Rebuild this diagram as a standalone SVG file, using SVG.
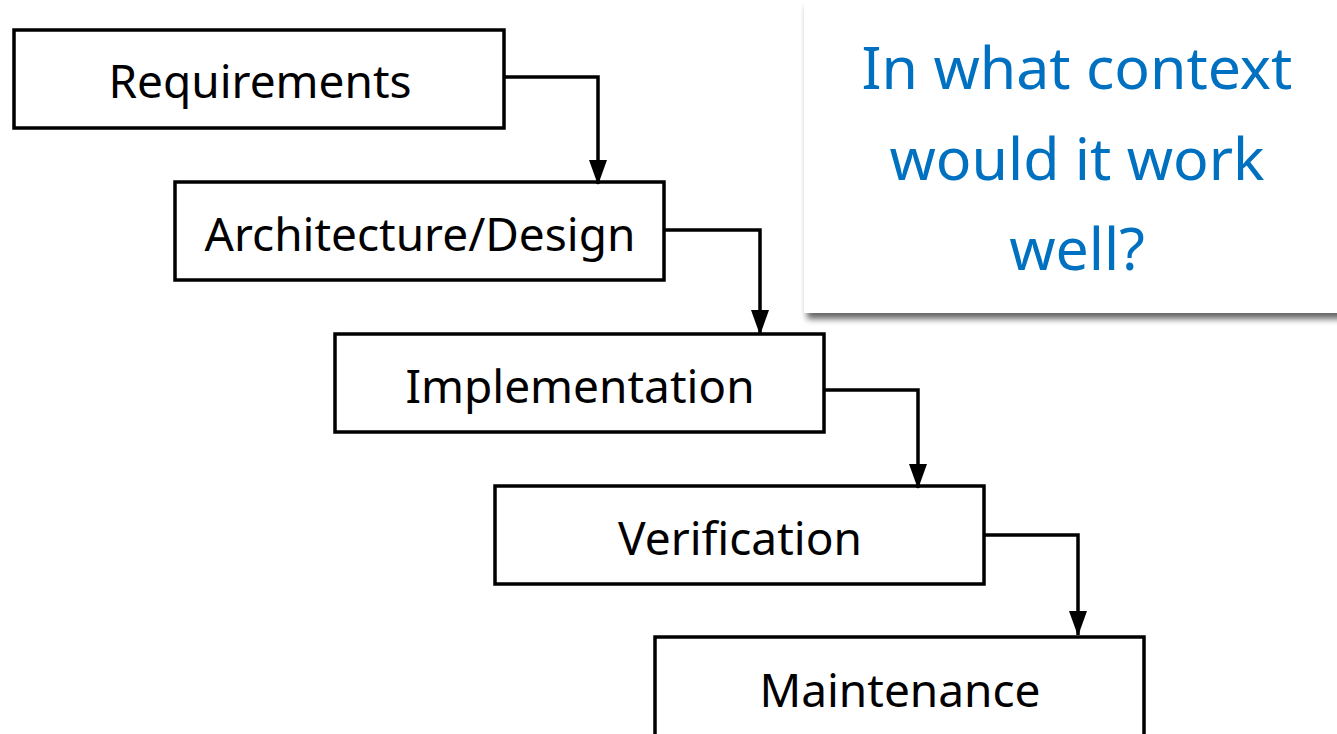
<svg xmlns="http://www.w3.org/2000/svg" width="1337" height="734" viewBox="0 0 1337 734">
  <defs>
    <marker id="arrow" viewBox="0 0 25 18" refX="24" refY="9" markerWidth="25" markerHeight="18" markerUnits="userSpaceOnUse" orient="auto">
      <path d="M0,0 L25,9 L0,18 Z" fill="#000"/>
    </marker>
    <filter id="shadow" x="-10%" y="-10%" width="130%" height="130%">
      <feGaussianBlur in="SourceAlpha" stdDeviation="3"/>
      <feOffset dx="3" dy="6" result="b"/>
      <feComponentTransfer><feFuncA type="linear" slope="0.6"/></feComponentTransfer>
      <feMerge><feMergeNode/><feMergeNode in="SourceGraphic"/></feMerge>
    </filter>
    <style>
      .box { fill: #fff; stroke: #000; stroke-width: 3.5; }
      .label { font-family: "Noto Sans", "Open Sans", sans-serif; font-size: 46px; fill: #000; text-anchor: middle; }
      .wire { fill: none; stroke: #000; stroke-width: 3.5; }
      .question { font-family: "Noto Sans", "Open Sans", sans-serif; font-size: 59px; fill: #0070C0; text-anchor: middle; }
    </style>
  </defs>
  <rect width="1337" height="734" fill="#fff"/>

  <!-- question callout -->
  <g id="callout">
    <rect x="804" y="0" width="540" height="313" fill="#fff" filter="url(#shadow)"/>
    <text class="question" x="1077" y="89">In what context</text>
    <text class="question" x="1077" y="180">would it work</text>
    <text class="question" x="1077" y="270">well?</text>
  </g>

  <!-- phase boxes -->
  <g id="requirements">
    <rect class="box" x="14" y="30" width="490" height="98"/>
    <text class="label" x="260" y="98">Requirements</text>
  </g>
  <g id="design">
    <rect class="box" x="175" y="182" width="489" height="98"/>
    <text class="label" x="420" y="251">Architecture/Design</text>
  </g>
  <g id="implementation">
    <rect class="box" x="335" y="334" width="489" height="98"/>
    <text class="label" x="580" y="403">Implementation</text>
  </g>
  <g id="verification">
    <rect class="box" x="495" y="486" width="489" height="98"/>
    <text class="label" x="740" y="555">Verification</text>
  </g>
  <g id="maintenance">
    <rect class="box" x="655" y="637" width="489" height="110"/>
    <text class="label" x="900" y="707">Maintenance</text>
  </g>

  <!-- flow between phases -->
  <g id="connectors">
    <path class="wire" d="M504,77 H598 V184" marker-end="url(#arrow)"/>
    <path class="wire" d="M664,230 H760 V334" marker-end="url(#arrow)"/>
    <path class="wire" d="M824,390 H918 V488" marker-end="url(#arrow)"/>
    <path class="wire" d="M984,535 H1078 V635" marker-end="url(#arrow)"/>
  </g>
</svg>
